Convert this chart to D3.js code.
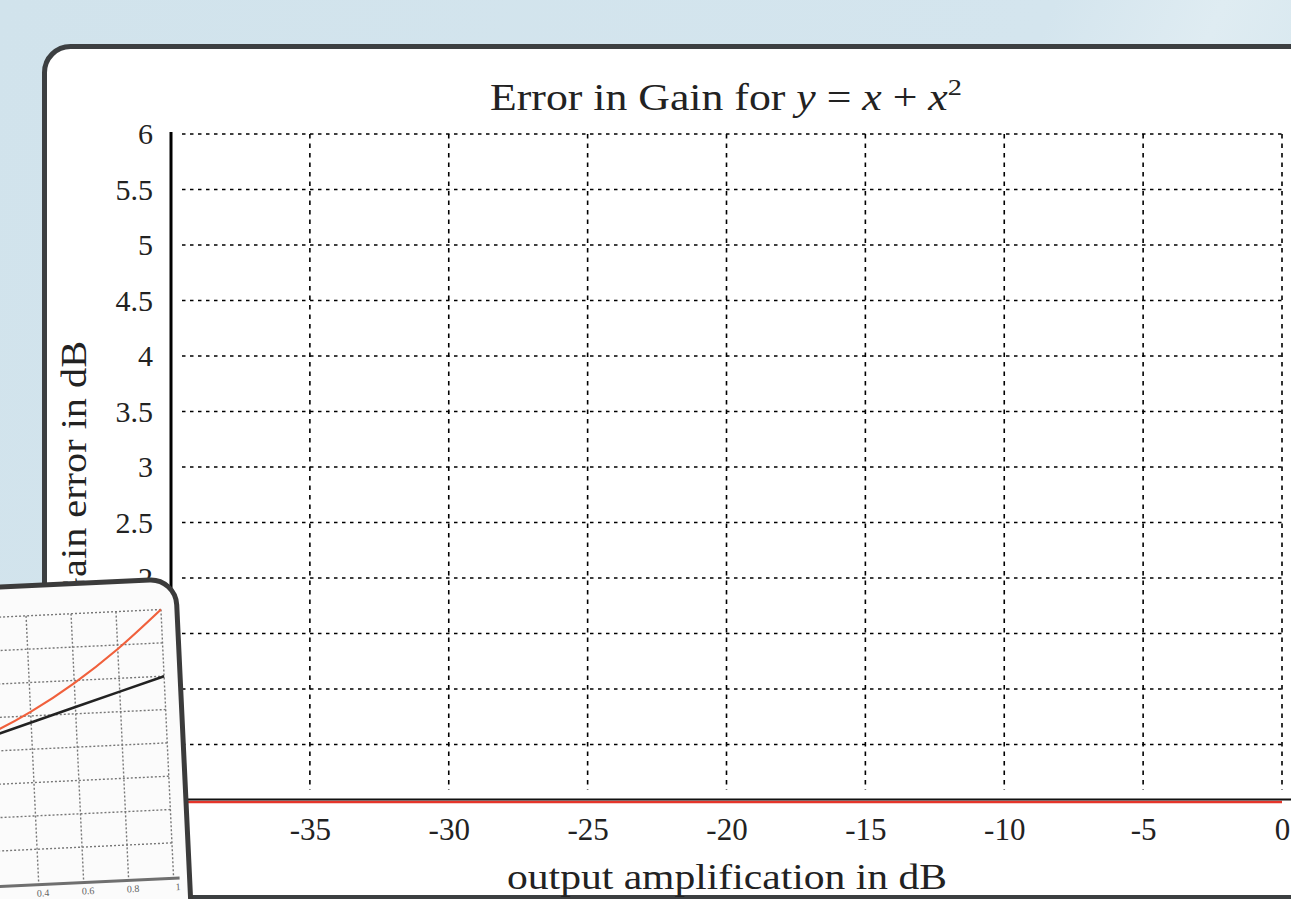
<!DOCTYPE html>
<html>
<head>
<meta charset="utf-8">
<script src="https://cdn.jsdelivr.net/npm/d3@7"></script>
<style>
  html, body { margin: 0; padding: 0; overflow: hidden; }
  svg { display: block; }
  text { font-family: "Liberation Serif", "Times New Roman", serif; }
</style>
</head>
<body>
<svg id="chart" width="1291" height="899"></svg>
<script>
// main chart data
const outputDb = [-40, -35, -30, -25, -20, -15, -10, -5, 0];
const gainError = [0, 0, 0, 0, 0, 0, 0, 0, 0];
const xTicks = [-35, -30, -25, -20, -15, -10, -5, 0];
const yTicks = [0.5, 1, 1.5, 2, 2.5, 3, 3.5, 4, 4.5, 5, 5.5, 6];

// inset chart data (partly hidden behind the window edge)
const insetX = [-1, -0.8, -0.6, -0.4, -0.2, 0, 0.2, 0.4, 0.6, 0.8, 1];
const insetLinear = [-1, -0.8, -0.6, -0.4, -0.2, 0, 0.2, 0.4, 0.6, 0.8, 1];
const insetQuad = [0, -0.16, -0.24, -0.24, -0.16, 0, 0.24, 0.56, 0.96, 1.44, 2];
const insetXTicks = [0.4, 0.6, 0.8, 1];
const insetYTicks = [-1.5, -1, -0.5, 0, 0.5, 1, 1.5, 2];

const svg = d3.select('#chart');

// page background
const defs = svg.append('defs');
const bg = defs.append('linearGradient').attr('id', 'bg')
  .attr('x1', '0').attr('y1', '0').attr('x2', '1').attr('y2', '0.3');
bg.append('stop').attr('offset', '0').attr('stop-color', '#d1e3ec');
bg.append('stop').attr('offset', '0.75').attr('stop-color', '#d4e5ee');
bg.append('stop').attr('offset', '0.87').attr('stop-color', '#dfecf2');
bg.append('stop').attr('offset', '1').attr('stop-color', '#d5e6ee');
svg.append('rect').attr('width', 1291).attr('height', 899).attr('fill', 'url(#bg)');

// main card
svg.append('rect')
  .attr('x', 44.5).attr('y', 46.5).attr('width', 1300).attr('height', 851)
  .attr('rx', 26).attr('fill', '#ffffff')
  .attr('stroke', '#3c3f41').attr('stroke-width', 5);

const x = d3.scaleLinear().domain([-40, 0]).range([171, 1282]);
const y = d3.scaleLinear().domain([0, 6]).range([800, 134]);

const g = svg.append('g');

// horizontal grid
g.selectAll('.hgrid').data(yTicks).enter().append('line')
  .attr('x1', x(-40) + 11).attr('x2', x(0) + 1)
  .attr('y1', d => y(d)).attr('y2', d => y(d))
  .attr('stroke', '#000').attr('stroke-width', 1.6)
  .attr('stroke-dasharray', '3.5,4.5');

// vertical grid
g.selectAll('.vgrid').data(xTicks).enter().append('line')
  .attr('x1', d => x(d)).attr('x2', d => x(d))
  .attr('y1', y(6)).attr('y2', y(0) - 10)
  .attr('stroke', '#000').attr('stroke-width', 1.6)
  .attr('stroke-dasharray', '4.5,5');

// y axis
const yAxis = g.append('g')
  .attr('transform', 'translate(' + x(-40) + ',0)')
  .call(d3.axisLeft(y).tickValues(yTicks).tickSize(0).tickPadding(18).tickFormat(d3.format('')));
yAxis.select('.domain').remove();
yAxis.selectAll('text').attr('font-size', 30).attr('fill', '#222')
  .style('font-family', '"Liberation Serif", serif');
g.append('line')
  .attr('x1', x(-40)).attr('x2', x(-40))
  .attr('y1', y(6) - 2).attr('y2', y(0))
  .attr('stroke', '#000').attr('stroke-width', 3);

// x axis
const xAxis = g.append('g')
  .attr('transform', 'translate(0,' + y(0) + ')')
  .call(d3.axisBottom(x).tickValues(xTicks).tickSize(0).tickPadding(18).tickFormat(d => String(d)));
xAxis.select('.domain').remove();
xAxis.selectAll('text').attr('font-size', 31).attr('fill', '#222')
  .style('font-family', '"Liberation Serif", serif');

// series
const line = d3.line().x((d, i) => x(outputDb[i])).y(d => y(d) + 2);
g.append('path').datum(gainError)
  .attr('d', line).attr('fill', 'none')
  .attr('stroke', '#e5352a').attr('stroke-width', 2.5);
g.append('line')
  .attr('x1', x(-40)).attr('x2', x(0) + 12)
  .attr('y1', y(0) - 0.5).attr('y2', y(0) - 0.5)
  .attr('stroke', '#111').attr('stroke-width', 1.8);

// title
const title = g.append('text')
  .attr('x', 490).attr('y', 110)
  .attr('font-size', 37).attr('fill', '#222')
  .attr('textLength', 472).attr('lengthAdjust', 'spacingAndGlyphs');
title.append('tspan').text('Error in Gain for ');
title.append('tspan').attr('font-style', 'italic').text('y');
title.append('tspan').text(' = ');
title.append('tspan').attr('font-style', 'italic').text('x');
title.append('tspan').text(' + ');
title.append('tspan').attr('font-style', 'italic').text('x');
title.append('tspan').attr('font-size', 24).attr('dy', -15).text('2');

// axis labels
g.append('text')
  .attr('x', 507).attr('y', 889)
  .attr('font-size', 36).attr('fill', '#222')
  .attr('textLength', 440).attr('lengthAdjust', 'spacingAndGlyphs')
  .text('output amplification in dB');
g.append('text')
  .attr('transform', 'translate(86,606) rotate(-90)')
  .attr('font-size', 36).attr('fill', '#222')
  .attr('textLength', 265).attr('lengthAdjust', 'spacingAndGlyphs')
  .text('Gain error in dB');

// inset card (another window, tilted, in front of the main one)
const inset = svg.append('g')
  .attr('transform', 'rotate(-2.7, 90, 740)');
inset.append('rect')
  .attr('x', -400).attr('y', 583).attr('width', 583).attr('height', 420)
  .attr('rx', 26).attr('fill', '#fbfbfb')
  .attr('stroke', '#3b3b3b').attr('stroke-width', 5);

const ix = d3.scaleLinear().domain([-1, 1]).range([-283, 167]);
const iy = d3.scaleLinear().domain([-2, 2]).range([880, 613]);

inset.selectAll('.ihgrid').data(insetYTicks).enter().append('line')
  .attr('x1', ix(-1)).attr('x2', ix(1) + 2)
  .attr('y1', d => iy(d)).attr('y2', d => iy(d))
  .attr('stroke', '#777').attr('stroke-width', 1.4)
  .attr('stroke-dasharray', '2,2');
inset.selectAll('.ivgrid').data([-0.2, 0, 0.2].concat(insetXTicks)).enter().append('line')
  .attr('x1', d => ix(d)).attr('x2', d => ix(d))
  .attr('y1', iy(2)).attr('y2', iy(-2))
  .attr('stroke', '#777').attr('stroke-width', 1.4)
  .attr('stroke-dasharray', '2,2');
inset.append('line')
  .attr('x1', ix(-1)).attr('x2', ix(1) + 6)
  .attr('y1', iy(-2) + 2).attr('y2', iy(-2) + 2)
  .attr('stroke', '#6f6f6f').attr('stroke-width', 3);

const iline = d3.line().x((d, i) => ix(insetX[i])).y(d => iy(d)).curve(d3.curveMonotoneX);
inset.append('path').datum(insetLinear)
  .attr('d', iline).attr('fill', 'none')
  .attr('stroke', '#222').attr('stroke-width', 2.6);
inset.append('path').datum(insetQuad)
  .attr('d', iline).attr('fill', 'none')
  .attr('stroke', '#f0603c').attr('stroke-width', 2.2);

inset.selectAll('.ixlab').data(insetXTicks).enter().append('text')
  .attr('x', d => ix(d) + 4).attr('y', iy(-2) + 14)
  .attr('text-anchor', 'middle').attr('font-size', 10).attr('fill', '#666')
  .text(d => String(d));
</script>
</body>
</html>
